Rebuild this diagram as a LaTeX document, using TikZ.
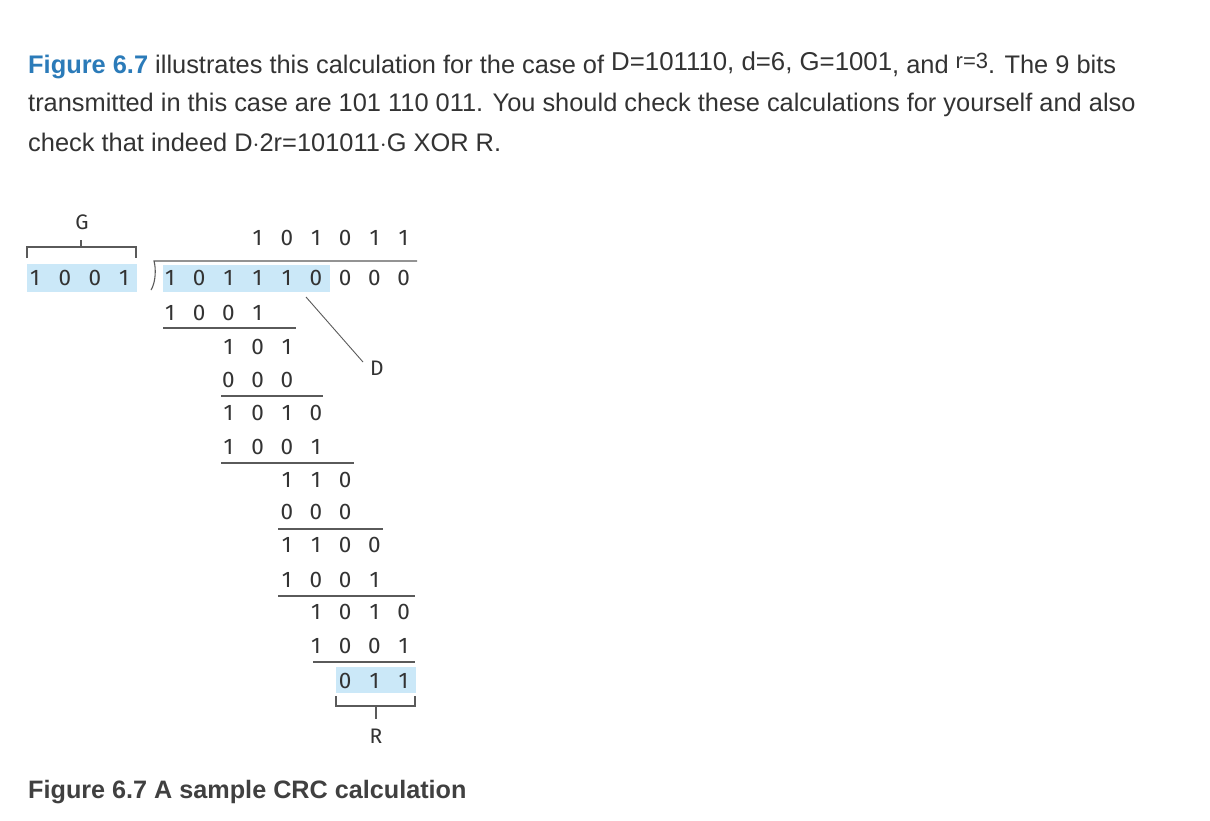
\documentclass[tikz,border=0pt]{standalone}
\usepackage{fontspec}
\setmainfont{Liberation Sans}
\newfontfamily\digitfont{Fira Sans}
\usetikzlibrary{calc}

\definecolor{ink}{HTML}{333333}
\definecolor{linkblue}{HTML}{2B7BB9}
\definecolor{hilite}{HTML}{CBE8F8}
\definecolor{rulegray}{HTML}{5A5A5A}

% one row of bits, column 0 sits under the first dividend bit
\newcommand{\bitrow}[4]{
	\foreach \b [count=\k from 0] in {#4} {
		\pgfmathsetmacro{\cx}{170+29.2*(#3+\k)}
		\node[bit] (#1-\k) at (\cx,#2) {\b};
	}
}

\begin{document}
\begin{tikzpicture}[
			x=1pt, y=-1pt,
			para/.style={
				anchor=base west,
				inner sep=0pt,
				text=ink,
				font=\fontsize{25.4}{30}\selectfont
			},
			bit/.style={
				inner sep=0pt,
				text=ink,
				font=\digitfont\fontsize{22.5}{26}\selectfont
			},
			tag/.style={
				inner sep=1pt,
				text=ink,
				font=\digitfont\fontsize{21}{24}\selectfont
			},
			rule/.style={
				draw=rulegray,
				line width=1.1pt
			}
			]

			\useasboundingbox[fill=white] (0,0) rectangle (1210,820);

			% Paragraph
			\node[para] (line1) at (28,73) {\textbf{\color{linkblue}Figure 6.7} illustrates this calculation for the case of \raisebox{3pt}{\fontsize{25.8}{30}\selectfont D=101110, d=6, G=1001}, and \raisebox{5pt}{\fontsize{22}{26}\selectfont r=3}. The 9 bits};
			\node[para] (line2) at (28,111) {transmitted in this case are 101 110 011. You should check these calculations for yourself and also};
			\node[para] (line3) at (28,151) {check that indeed D$\cdot$2r=101011$\cdot$G XOR R.};

			% Highlights
			\fill[hilite] (27,264) rectangle (137,292);
			\fill[hilite] (163,265) rectangle (330,292);
			\fill[hilite] (336,667) rectangle (416,693);

			% Divisor and its bracket
			\node[bit] (g-0) at (35,278) {1};
			\node[bit] (g-1) at (65,278) {0};
			\node[bit] (g-2) at (95,278) {0};
			\node[bit] (g-3) at (124,278) {1};
			\draw[rule] (27,258) -- (27,247) -- (136,247) -- (136,258);
			\node[tag] (glab) at (82,222) {G};
			\coordinate (gstem) at (81,240);
			\draw[rule] (81,247) -- (gstem);

			% Division sign
			\draw[rule] (151,290) .. controls (156,282) and (156,268) .. (154,261) -- (417,261);

			% Quotient and dividend
			\bitrow{q}{238}{3}{1,0,1,0,1,1}
			\bitrow{d}{278}{0}{1,0,1,1,1,0,0,0,0}

			% Steps
			\bitrow{s1}{313}{0}{1,0,0,1}
			\draw[rule] (163,328) -- (296,328);
			\bitrow{s2}{347}{2}{1,0,1}
			\bitrow{s3}{380}{2}{0,0,0}
			\draw[rule] (221,396) -- (323,396);
			\bitrow{s4}{413}{2}{1,0,1,0}
			\bitrow{s5}{447}{2}{1,0,0,1}
			\draw[rule] (221,463) -- (354,463);
			\bitrow{s6}{480}{4}{1,1,0}
			\bitrow{s7}{512}{4}{0,0,0}
			\draw[rule] (278,529) -- (383,529);
			\bitrow{s8}{545}{4}{1,1,0,0}
			\bitrow{s9}{580}{4}{1,0,0,1}
			\draw[rule] (278,596) -- (415,596);
			\bitrow{s10}{612}{5}{1,0,1,0}
			\bitrow{s11}{646}{5}{1,0,0,1}
			\draw[rule] (313,662) -- (415,662);
			\bitrow{r}{681}{6}{0,1,1}

			% D label
			\node[tag] (dlab) at (377,368) {D};
			\coordinate (dtip) at (306,297);
			\coordinate (dend) at (363,362);
			\draw[rule, line width=0.9pt] (dtip) -- (dend);

			% R bracket
			\draw[rule] (336,696) -- (336,706) -- (415,706) -- (415,696);
			\node[tag] (rlab) at (376,736) {R};
			\coordinate (rstem) at (376,719);
			\draw[rule] (376,706) -- (rstem);

			% Caption
			\node[para, text=black!75, font=\bfseries\fontsize{25.2}{30}\selectfont] (caption) at (28,798) {Figure 6.7 A sample CRC calculation};

		\end{tikzpicture}
\end{document}
